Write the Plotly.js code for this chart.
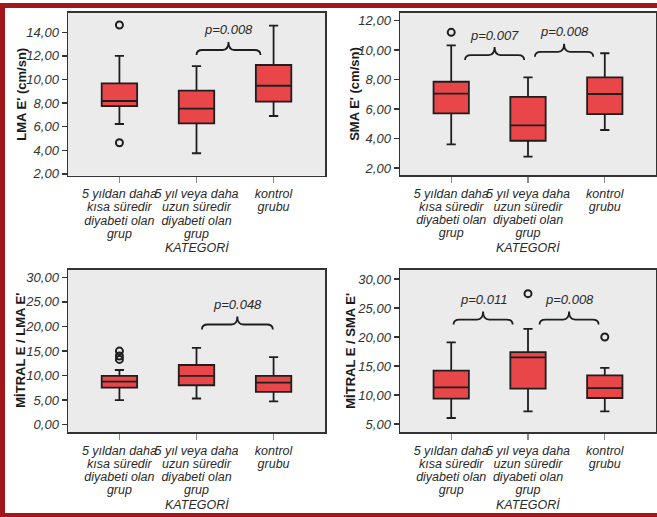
<!DOCTYPE html>
<html>
<head>
<meta charset="utf-8">
<script src="https://cdn.plot.ly/plotly-3.0.1.min.js"></script>
<style>
html,body{margin:0;padding:0;background:#fff;}
#chart{width:657px;height:517px;}
</style>
</head>
<body>
<div id="chart"></div>
<script>
// ---------- data ----------
const categories = [
  '5 yıldan daha<br>kısa süredir<br>diyabeti olan<br>grup',
  '5 yıl veya daha<br>uzun süredir<br>diyabeti olan<br>grup',
  'kontrol<br>grubu'
];
const categoryIndex = [0, 1, 2];
const xAxisTitle = 'KATEGORİ';

// Panel 1: LMA E'
const lmaTitle = "LMA E' (cm/sn)";
const lmaQ1 = [7.75, 6.29, 8.12];
const lmaMedian = [8.18, 7.53, 9.47];
const lmaQ3 = [9.68, 9.05, 11.23];
const lmaLow = [6.23, 3.75, 6.91];
const lmaHigh = [12.0, 11.14, 14.56];
const lmaOutX = [0, 0];
const lmaOutY = [14.62, 4.64];
const lmaBraces = [[1.0, 1.83, 12.5, 'p=0.008']];
const lmaTicks = [2, 4, 6, 8, 10, 12, 14];

// Panel 2: SMA E'
const smaTitle = "SMA E' (cm/sn)";
const smaQ1 = [5.71, 3.85, 5.66];
const smaMedian = [7.04, 4.90, 7.02];
const smaQ3 = [7.85, 6.83, 8.15];
const smaLow = [3.61, 2.77, 4.58];
const smaHigh = [10.32, 8.15, 9.78];
const smaOutX = [0];
const smaOutY = [11.2];
const smaBraces = [[0.18, 0.95, 9.66, 'p=0.007'], [1.09, 1.85, 9.88, 'p=0.008']];
const smaTicks = [2, 4, 6, 8, 10, 12];

// Panel 3: Mitral E / LMA E'
const elmaTitle = "MİTRAL E / LMA E'";
const elmaQ1 = [7.55, 8.02, 6.68];
const elmaMedian = [8.77, 9.92, 8.56];
const elmaQ3 = [9.92, 12.15, 9.92];
const elmaLow = [4.98, 5.32, 4.72];
const elmaHigh = [11.13, 15.65, 13.77];
const elmaOutX = [0, 0, 0];
const elmaOutY = [14.98, 13.97, 13.28];
const elmaBraces = [[1.07, 1.99, 20.4, 'p=0.048']];
const elmaTicks = [0, 5, 10, 15, 20, 25, 30];

// Panel 4: Mitral E / SMA E'
const esmaTitle = "MİTRAL E / SMA E'";
const esmaQ1 = [9.36, 11.09, 9.48];
const esmaMedian = [11.33, 16.5, 11.2];
const esmaQ3 = [14.2, 17.4, 13.4];
const esmaLow = [6.03, 7.19, 7.19];
const esmaHigh = [19.09, 21.4, 14.66];
const esmaOutX = [1, 2];
const esmaOutY = [27.47, 20.0];
const esmaBraces = [[0.03, 0.80, 23.0, 'p=0.011'], [1.15, 1.92, 23.0, 'p=0.008']];
const esmaTicks = [5, 10, 15, 20, 25, 30];

// ---------- layout / style ----------
const W = 657, H = 517;
const FONT = 'Liberation Sans, Arial, Helvetica, sans-serif';
const BOXFILL = '#e9464a';
const DARK = '#1e1e1e';

const panels = [
  {title: lmaTitle, q1: lmaQ1, med: lmaMedian, q3: lmaQ3, lo: lmaLow, hi: lmaHigh, ox: lmaOutX, oy: lmaOutY,
   braces: lmaBraces, ticks: lmaTicks, px: [68, 325], py: [12.7, 175.7], yr: [1.85, 15.66], titleX: 21.5, katY: 248},
  {title: smaTitle, q1: smaQ1, med: smaMedian, q3: smaQ3, lo: smaLow, hi: smaHigh, ox: smaOutX, oy: smaOutY,
   braces: smaBraces, ticks: smaTicks, px: [400, 656], py: [12.7, 175], yr: [1.53, 12.53], titleX: 355, katY: 248},
  {title: elmaTitle, q1: elmaQ1, med: elmaMedian, q3: elmaQ3, lo: elmaLow, hi: elmaHigh, ox: elmaOutX, oy: elmaOutY,
   braces: elmaBraces, ticks: elmaTicks, px: [68, 325], py: [269.5, 432], yr: [-1.5, 31.6], titleX: 21, katY: 505},
  {title: esmaTitle, q1: esmaQ1, med: esmaMedian, q3: esmaQ3, lo: esmaLow, hi: esmaHigh, ox: esmaOutX, oy: esmaOutY,
   braces: esmaBraces, ticks: esmaTicks, px: [400, 656], py: [269.5, 432], yr: [3.62, 31.64], titleX: 351, katY: 505}
];
const XR = [-0.667, 2.667];

const traces = [];
const layout = {
  width: W, height: H,
  margin: {l: 0, r: 0, t: 0, b: 0, pad: 0},
  paper_bgcolor: '#ffffff',
  plot_bgcolor: '#ebebeb',
  showlegend: false,
  separators: ',.',
  font: {family: FONT, color: '#333'},
  shapes: [],
  annotations: []
};

panels.forEach((p, i) => {
  const n = i + 1;
  const xa = n === 1 ? 'x' : 'x' + n;
  const ya = n === 1 ? 'y' : 'y' + n;
  const xKey = n === 1 ? 'xaxis' : 'xaxis' + n;
  const yKey = n === 1 ? 'yaxis' : 'yaxis' + n;

  traces.push({
    type: 'box', xaxis: xa, yaxis: ya,
    x: categoryIndex, q1: p.q1, median: p.med, q3: p.q3,
    lowerfence: p.lo, upperfence: p.hi,
    width: 0.46, whiskerwidth: 0.26,
    fillcolor: BOXFILL,
    line: {color: DARK, width: 1.8},
    boxpoints: false, hoverinfo: 'skip'
  });
  traces.push({
    type: 'scatter', mode: 'markers', xaxis: xa, yaxis: ya,
    x: p.ox, y: p.oy,
    marker: {symbol: 'circle-open', size: 7, color: DARK, line: {width: 2, color: DARK}},
    hoverinfo: 'skip'
  });

  layout[xKey] = {
    domain: [p.px[0] / W, p.px[1] / W],
    anchor: ya, range: XR,
    tickmode: 'array', tickvals: categoryIndex, ticktext: categories,
    tickangle: 0, automargin: false,
    ticks: 'outside', ticklen: 6, tickwidth: 1.2, tickcolor: '#8a8a8a',
    tickfont: {family: FONT, size: 12.5, color: '#2a2a2a', style: 'italic'},
    showline: true, mirror: true, linecolor: '#333', linewidth: 1.5,
    showgrid: false, zeroline: false, fixedrange: true
  };
  layout[yKey] = {
    domain: [1 - p.py[1] / H, 1 - p.py[0] / H],
    anchor: xa, range: p.yr, automargin: false,
    tickmode: 'array', tickvals: p.ticks, tickformat: '.2f',
    ticks: 'outside', ticklen: 5, tickwidth: 1.5, tickcolor: '#333',
    tickfont: {family: FONT, size: 13, color: '#333', style: 'italic'},
    showline: true, mirror: true, linecolor: '#333', linewidth: 1.5,
    showgrid: false, zeroline: false, fixedrange: true
  };

  // y axis title (rotated)
  layout.annotations.push({
    xref: 'paper', yref: 'paper',
    x: p.titleX / W, y: 1 - ((p.py[0] + p.py[1]) / 2) / H,
    text: p.title, textangle: -90, showarrow: false,
    xanchor: 'center', yanchor: 'middle',
    font: {family: FONT, size: 13, color: '#1a1a1a', weight: 'bold'}
  });
  // x axis title
  layout.annotations.push({
    xref: 'paper', yref: 'paper',
    x: ((p.px[0] + p.px[1]) / 2) / W, y: 1 - p.katY / H,
    text: xAxisTitle, showarrow: false,
    xanchor: 'center', yanchor: 'middle',
    font: {family: FONT, size: 12.5, color: '#2a2a2a', style: 'italic'}
  });

  // braces with p-values
  const pxPerX = (p.px[1] - p.px[0]) / (XR[1] - XR[0]);
  const pxPerY = (p.py[1] - p.py[0]) / (p.yr[1] - p.yr[0]);
  const ux = v => v / pxPerX;
  const uy = v => v / pxPerY;
  p.braces.forEach(b => {
    const [a, c, lvl, label] = b;
    const m = (a + c) / 2;
    const end = lvl - uy(5), tip = lvl + uy(8), r = ux(6);
    const path = `M${a},${end} Q${a},${lvl} ${a + r},${lvl} L${m - r},${lvl} Q${m},${lvl} ${m},${tip} ` +
                 `Q${m},${lvl} ${m + r},${lvl} L${c - r},${lvl} Q${c},${lvl} ${c},${end}`;
    layout.shapes.push({
      type: 'path', xref: xa, yref: ya, path: path,
      line: {color: DARK, width: 1.8}
    });
    layout.annotations.push({
      xref: xa, yref: ya, x: m, y: lvl, yshift: 20,
      text: label, showarrow: false, xanchor: 'center', yanchor: 'middle',
      font: {family: FONT, size: 13, color: '#2a2a2a', style: 'italic'}
    });
  });
});

// dark red frame
const FRAME = '#a3161c';
layout.shapes.push(
  {type: 'rect', xref: 'paper', yref: 'paper', x0: 0, x1: 1, y0: 1 - 3 / H, y1: 1 - 8 / H, fillcolor: FRAME, line: {width: 0}},
  {type: 'rect', xref: 'paper', yref: 'paper', x0: 0, x1: 5 / W, y0: 0, y1: 1 - 3 / H, fillcolor: FRAME, line: {width: 0}},
  {type: 'rect', xref: 'paper', yref: 'paper', x0: 0, x1: 1, y0: 0, y1: 4 / H, fillcolor: FRAME, line: {width: 0}}
);

Plotly.newPlot('chart', traces, layout, {displayModeBar: false, staticPlot: true}).then(gd => {
  // tighten multi-line category label spacing on every x axis
  gd.querySelectorAll('.xaxislayer-above text tspan.line').forEach(t => {
    const dy = parseFloat(t.getAttribute('dy') || '0');
    const k = dy / 1.3;
    t.setAttribute('dy', (k * 1.06) + 'em');
  });
});
</script>
</body>
</html>
